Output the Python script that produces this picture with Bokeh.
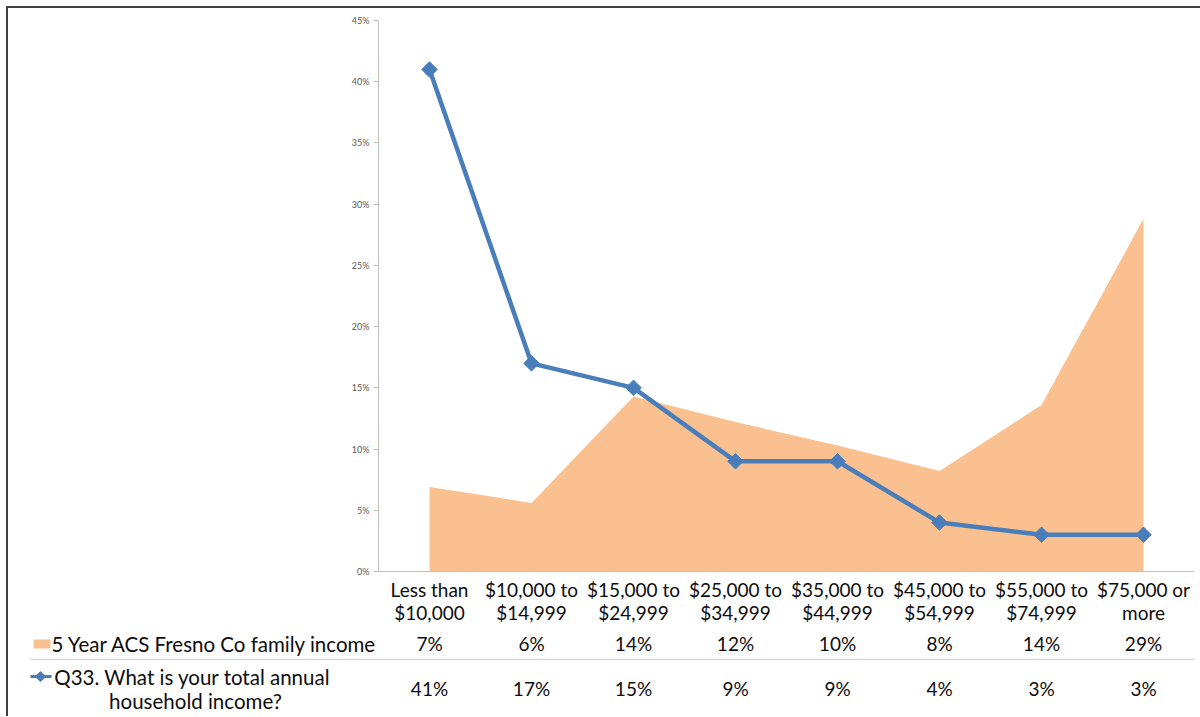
import numpy as np
from bokeh.plotting import figure
from bokeh.layouts import column
from bokeh.models import FactorRange, Range1d, FixedTicker, PrintfTickFormatter, Span, ColumnDataSource
from bokeh.core.properties import value
from bokeh.embed import file_html
from bokeh.resources import INLINE

# ---------------- data ----------------
categories = ["Less than $10,000", "$10,000 to $14,999", "$15,000 to $24,999",
              "$25,000 to $34,999", "$35,000 to $44,999", "$45,000 to $54,999",
              "$55,000 to $74,999", "$75,000 or more"]
acs_family_income = [6.9, 5.6, 14.3, 12.2, 10.3, 8.2, 13.6, 28.8]
q33_household_income = [41, 17, 15, 9, 9, 4, 3, 3]
y_ticks = [0, 5, 10, 15, 20, 25, 30, 35, 40, 45]
series_acs = "5 Year ACS Fresno Co family income"
series_q33 = "Q33. What is your total annual household income?"

# ---------------- layout constants (page pixels) ----------------
FONT = "Lato"
FS = "19px"
FS_LEG = "20.5px"
ORANGE = "#FAC090"
BLUE = "#4A7EBB"
TEXT = "#0d0d0d"
ORIGIN = 8                 # content starts here (after the frame border)
PAGE_W, PAGE_H = 1200, 716
FRAME_L, FRAME_R = 378, 1194
Y0_PX, Y45_PX = 571, 20    # pixel rows of 0% and 45%
SPLIT_PX = 625             # boundary between chart part and data-table part
CAT_W = (FRAME_R - FRAME_L) / len(categories)
PX_PER_PCT = (Y0_PX - Y45_PX) / 45.0

def ypct(px):
    return (Y0_PX - px) / PX_PER_PCT

def xcat(px):
    return (px - FRAME_L) / CAT_W

# ---------------- chart part ----------------
top = figure(x_range=FactorRange(*categories, range_padding=0, factor_padding=0),
             y_range=Range1d(ypct(SPLIT_PX), ypct(ORIGIN)),
             width=PAGE_W - ORIGIN, height=SPLIT_PX - ORIGIN,
             output_backend="svg", toolbar_location=None, x_axis_location=None,
             min_border_left=FRAME_L - ORIGIN, min_border_right=PAGE_W - FRAME_R,
             min_border_top=0, min_border_bottom=0, frame_align=False)
top.outline_line_color = None
top.grid.grid_line_color = None

yax = top.yaxis[0]
yax.ticker = FixedTicker(ticks=y_ticks)
yax.bounds = (0, 45)
yax.formatter = PrintfTickFormatter(format="%d%%")
yax.axis_line_color = "#BFBFBF"
yax.major_tick_line_color = "#BFBFBF"
yax.major_tick_in = 0
yax.major_tick_out = 5
yax.minor_tick_line_color = None
yax.major_label_text_font = FONT
yax.major_label_text_font_size = "9px"
yax.major_label_text_color = "#595959"
yax.major_label_standoff = 4

src = ColumnDataSource(dict(
    cat=categories, acs=acs_family_income, q33=q33_household_income,
    line1=[c.rsplit(" ", 1)[0] for c in categories],
    line2=[c.rsplit(" ", 1)[1] for c in categories],
))
top.varea(x="cat", y1=0, y2="acs", source=src, fill_color=ORANGE)
top.add_layout(Span(location=0, dimension="width", line_color="#BFBFBF", line_width=1))
top.line(x="cat", y="q33", source=src, line_color=BLUE, line_width=4.5, line_join="round")
top.scatter(x="cat", y="q33", source=src, marker="square", angle=np.pi / 4, size=11,
            fill_color=BLUE, line_color=BLUE)

for col, ypx in (("line1", 589), ("line2", 612)):
    top.text(x="cat", y=ypct(ypx), text=col, source=src, text_align="center",
             text_baseline="middle", text_font=value(FONT), text_font_size=FS, text_color=TEXT)

# ---------------- data-table part ----------------
bot = figure(x_range=Range1d(xcat(ORIGIN), xcat(PAGE_W)), y_range=Range1d(PAGE_H, SPLIT_PX),
             width=PAGE_W - ORIGIN, height=PAGE_H - SPLIT_PX,
             output_backend="svg", toolbar_location=None,
             x_axis_type=None, y_axis_type=None,
             min_border_left=0, min_border_right=0, min_border_top=0, min_border_bottom=0,
             frame_align=False)
bot.outline_line_color = None
bot.grid.grid_line_color = None

tsrc = ColumnDataSource(dict(
    x=[i + 0.5 for i in range(len(categories))],
    acs_txt=[f"{v:.0f}%" for v in acs_family_income],
    q33_txt=[f"{v:.0f}%" for v in q33_household_income],
))
for col, ypx in (("acs_txt", 643), ("q33_txt", 688)):
    bot.text(x="x", y=ypx, text=col, source=tsrc, text_align="center", text_baseline="middle",
             text_font=value(FONT), text_font_size=FS, text_color=TEXT)

# separator between the two table rows
bot.segment(x0=xcat(30), x1=xcat(FRAME_R), y0=659, y1=659, line_color="#D9D9D9", line_width=1.5)

# legend keys
bot.quad(left=xcat(33), right=xcat(50), top=639, bottom=648, fill_color=ORANGE, line_color=None)
bot.segment(x0=xcat(30), x1=xcat(51), y0=676, y1=676, line_color=BLUE, line_width=3)
bot.scatter(x=[xcat(40)], y=[676], marker="square", angle=np.pi / 4, size=7,
            fill_color=BLUE, line_color=BLUE)

# legend texts
bot.text(x=[xcat(51)], y=[643], text=[series_acs], text_align="left", text_baseline="middle",
         text_font=value(FONT), text_font_size=FS_LEG, text_color=TEXT)
head, tail = series_q33.split(" household")
bot.text(x=[xcat(192), xcat(195)], y=[676, 700], text=[head, "household" + tail],
         text_align="center", text_baseline="middle",
         text_font=value(FONT), text_font_size=FS_LEG, text_color=TEXT)

layout = column(top, bot, styles={"margin-left": "6px", "margin-top": "6px",
                                  "border-left": "2px solid #404040",
                                  "border-top": "2px solid #404040"})

open("out.html", "w").write(file_html(layout, INLINE))
